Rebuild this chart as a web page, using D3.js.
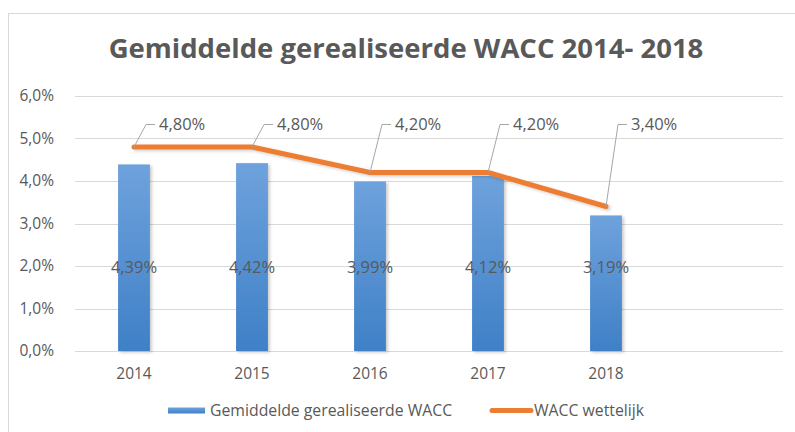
<!DOCTYPE html>
<html>
<head>
<meta charset="utf-8">
<script src="https://cdn.jsdelivr.net/npm/d3@7"></script>
<style>
  body { margin: 0; background: #fff; }
  text { font-family: "Open Sans", sans-serif; fill: #595959; }
</style>
</head>
<body>
<div id="chart-div"></div>
<script>
// Chart data
const YEARS = ['2014', '2015', '2016', '2017', '2018'];
const REALISED_WACC = [4.39, 4.42, 3.99, 4.12, 3.19];
const LEGAL_WACC = [4.80, 4.80, 4.20, 4.20, 3.40];
const Y_TICKS = [0, 1, 2, 3, 4, 5, 6];
const TITLE = 'Gemiddelde gerealiseerde WACC 2014- 2018';
const SERIES_NAMES = ['Gemiddelde gerealiseerde WACC', 'WACC wettelijk'];

// Constants for the chart
const WIDTH = 795;
const HEIGHT = 432;
const MARGIN = { left: 75, right: 12, top: 96, bottom: 81 };
const CHART_WIDTH = WIDTH - MARGIN.left - MARGIN.right;
const CHART_HEIGHT = HEIGHT - MARGIN.top - MARGIN.bottom;
const BAR_LABEL_LEVEL = 1.97;   // excel puts the bar labels on one height
const LINE_LABEL_LEVEL = 5.33;
const ORANGE = '#ED7D31';
const GRID = '#D9D9D9';

// dutch number format, comma as decimal
const nl = d3.formatLocale({ decimal: ',', thousands: '.', grouping: [3], currency: ['€', ''] });
const fmt1 = v => nl.format('.1f')(v) + '%';
const fmt2 = v => nl.format('.2f')(v) + '%';

let svg, chart;

setup();

function setup () {
  svg = d3.select('#chart-div')
    .append('svg')
    .attr('width', WIDTH)
    .attr('height', HEIGHT);

  const defs = svg.append('defs');

  //gradient for the bars
  const grad = defs.append('linearGradient')
    .attr('id', 'barGrad')
    .attr('x1', 0).attr('y1', 0).attr('x2', 0).attr('y2', 1);
  grad.append('stop').attr('offset', '0%').attr('stop-color', '#6EA2DC');
  grad.append('stop').attr('offset', '100%').attr('stop-color', '#3F80C7');

  //soft shadow like excel
  defs.append('filter')
    .attr('id', 'shadow')
    .attr('x', '-20%').attr('y', '-20%').attr('width', '150%').attr('height', '150%')
    .append('feDropShadow')
    .attr('dx', 2).attr('dy', 1.5)
    .attr('stdDeviation', 1.5)
    .attr('flood-color', '#000')
    .attr('flood-opacity', 0.2);

  //chart border
  svg.append('rect')
    .attr('x', 8.5)
    .attr('y', 13.5)
    .attr('width', WIDTH)
    .attr('height', HEIGHT)
    .attr('fill', 'none')
    .attr('stroke', GRID);

  //title
  svg.append('text')
    .attr('x', 406)
    .attr('y', 58)
    .attr('text-anchor', 'middle')
    .style('font-size', '27.5px')
    .style('font-weight', 'bold')
    .text(TITLE);

  chart = svg.append('g')
    .attr('transform', `translate(${MARGIN.left}, ${MARGIN.top})`);

  update();
}

/**
 * Draw the bars, line, labels and legend
 */
function update () {
  const data = YEARS.map((y, i) => ({ year: y, real: REALISED_WACC[i], legal: LEGAL_WACC[i] }));

  // one empty slot on the right, as in the sheet
  const xAxis = d3.scaleBand()
    .domain([...YEARS, ' '])
    .range([0, CHART_WIDTH])
    .paddingInner(0.73)
    .paddingOuter(0.365);

  const yAxis = d3.scaleLinear()
    .domain([0, 6])
    .range([CHART_HEIGHT, 0]);

  const cx = d => xAxis(d.year) + xAxis.bandwidth() / 2;

  //gridlines
  chart.append('g')
    .attr('class', 'grid')
    .selectAll('line')
    .data(Y_TICKS)
    .enter()
    .append('line')
    .attr('x1', 0)
    .attr('x2', CHART_WIDTH)
    .attr('y1', d => Math.round(yAxis(d)) + 0.5)
    .attr('y2', d => Math.round(yAxis(d)) + 0.5)
    .attr('stroke', GRID)
    .attr('stroke-width', 1);

  // y-axis labels
  const yG = chart.append('g')
    .attr('class', 'y-axis')
    .attr('transform', 'translate(-18, 0)')
    .call(d3.axisLeft(yAxis).tickValues(Y_TICKS).tickFormat(fmt1).tickSize(0));
  yG.select('.domain').remove();
  yG.selectAll('text')
    .style('font-size', '15.5px')
    .attr('fill', null);

  // x-axis labels
  const xG = chart.append('g')
    .attr('class', 'x-axis')
    .attr('transform', `translate(0, ${CHART_HEIGHT + 14})`)
    .call(d3.axisBottom(xAxis).tickSize(0));
  xG.select('.domain').remove();
  xG.selectAll('text')
    .style('font-size', '15.5px')
    .attr('fill', null);

  // bars
  chart.selectAll('rect.bar')
    .data(data)
    .enter()
    .append('rect')
    .attr('class', 'bar')
    .attr('x', d => xAxis(d.year))
    .attr('y', d => yAxis(d.real))
    .attr('width', xAxis.bandwidth())
    .attr('height', d => CHART_HEIGHT - yAxis(d.real))
    .attr('fill', 'url(#barGrad)')
    .attr('filter', 'url(#shadow)');

  // bar labels
  chart.selectAll('text.bar-label')
    .data(data)
    .enter()
    .append('text')
    .attr('class', 'bar-label')
    .attr('x', cx)
    .attr('y', yAxis(BAR_LABEL_LEVEL))
    .attr('dy', '0.35em')
    .attr('text-anchor', 'middle')
    .style('font-size', '16.5px')
    .text(d => fmt2(d.real));

  //line generator
  const lineGenerator = d3.line()
    .x(cx)
    .y(d => yAxis(d.legal));

  chart.append('path')
    .datum(data)
    .attr('class', 'line')
    .attr('d', lineGenerator)
    .attr('fill', 'none')
    .attr('stroke', ORANGE)
    .attr('stroke-width', 5)
    .attr('stroke-linecap', 'round')
    .attr('stroke-linejoin', 'round')
    .attr('filter', 'url(#shadow)');

  // leader lines for the line labels
  const ly = yAxis(LINE_LABEL_LEVEL);
  chart.selectAll('path.leader')
    .data(data)
    .enter()
    .append('path')
    .attr('class', 'leader')
    .attr('d', d => `M${cx(d)},${yAxis(d.legal)} L${cx(d) + 12},${ly} L${cx(d) + 21},${ly}`)
    .attr('fill', 'none')
    .attr('stroke', '#A6A6A6')
    .attr('stroke-width', 1);

  chart.selectAll('text.line-label')
    .data(data)
    .enter()
    .append('text')
    .attr('class', 'line-label')
    .attr('x', d => cx(d) + 25)
    .attr('y', ly)
    .attr('dy', '0.35em')
    .style('font-size', '16.5px')
    .text(d => fmt2(d.legal));

  // legend
  const legend = svg.append('g').attr('class', 'legend');
  legend.append('rect')
    .attr('x', 168)
    .attr('y', 407.5)
    .attr('width', 37)
    .attr('height', 6)
    .attr('fill', 'url(#barGrad)');
  legend.append('text')
    .attr('x', 210)
    .attr('y', 410.5)
    .attr('dy', '0.35em')
    .style('font-size', '15.8px')
    .text(SERIES_NAMES[0]);
  legend.append('line')
    .attr('x1', 492).attr('x2', 531)
    .attr('y1', 410.5).attr('y2', 410.5)
    .attr('stroke', ORANGE)
    .attr('stroke-width', 5)
    .attr('stroke-linecap', 'round');
  legend.append('text')
    .attr('x', 534)
    .attr('y', 410.5)
    .attr('dy', '0.35em')
    .style('font-size', '15.8px')
    .text(SERIES_NAMES[1]);
}
</script>
</body>
</html>
